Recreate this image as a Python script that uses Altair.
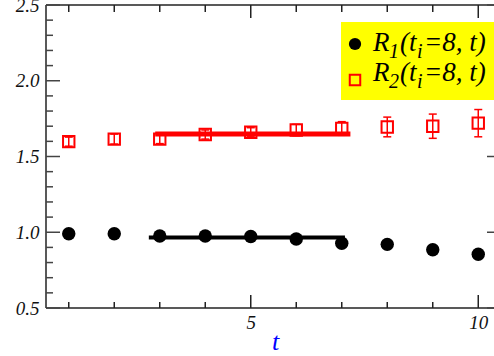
import altair as alt
import pandas as pd

# ---- data ----
t_vals = [1, 2, 3, 4, 5, 6, 7, 8, 9, 10]
r1_vals = [0.99, 0.99, 0.975, 0.975, 0.972, 0.955, 0.927, 0.92, 0.885, 0.855]
r1_err = [0.01, 0.01, 0.01, 0.01, 0.01, 0.012, 0.015, 0.02, 0.025, 0.035]
r2_vals = [1.598, 1.615, 1.615, 1.645, 1.66, 1.675, 1.685, 1.695, 1.70, 1.72]
r2_err = [0.03, 0.033, 0.03, 0.03, 0.03, 0.037, 0.045, 0.065, 0.08, 0.09]

fit1 = {"t0": [2.76], "t1": [7.07], "v": [0.966]}
fit2 = {"t0": [2.9], "t1": [7.19], "v": [1.649]}

y_major = [0.5, 1.0, 1.5, 2.0, 2.5]
y_minor = [0.6, 0.7, 0.8, 0.9, 1.1, 1.2, 1.3, 1.4, 1.6, 1.7, 1.8, 1.9, 2.1, 2.2, 2.3, 2.4]
x_major = [5, 10]
x_minor = [1, 2, 3, 4, 6, 7, 8, 9]

W, H = 448, 303
FONT = "Liberation Serif"
XDOM = [0.5, 10.346]
YDOM = [0.5, 2.5]

df = pd.DataFrame({"t": t_vals, "r1": r1_vals, "r1e": r1_err, "r2": r2_vals, "r2e": r2_err})
df["r1lo"] = df.r1 - df.r1e
df["r1hi"] = df.r1 + df.r1e
df["r2lo"] = df.r2 - df.r2e
df["r2hi"] = df.r2 + df.r2e

xs = alt.Scale(domain=XDOM, nice=False, zero=False)
ys = alt.Scale(domain=YDOM, nice=False, zero=False)

base = alt.Chart(df)

x_axis = alt.Axis(values=x_major, domain=False, ticks=False, grid=False, labelFont=FONT,
                  labelFontStyle="italic", labelFontSize=19, labelColor="#111", labelPadding=5,
                  title="t", titleFont=FONT, titleFontStyle="italic", titleFontWeight="normal",
                  titleFontSize=26, titleColor="#0000ff", titleX=229, titleY=41,
                  titleBaseline="alphabetic", titleAlign="center")
y_axis = alt.Axis(values=y_major, format=".1f", domain=False, ticks=False, grid=False,
                  labelFont=FONT, labelFontStyle="italic", labelFontSize=19, labelColor="#111",
                  labelPadding=7, title=None)

# invisible layer carrying the axes
axes_layer = base.mark_point(opacity=0).encode(
    x=alt.X("t:Q", scale=xs, axis=x_axis),
    y=alt.Y("r1:Q", scale=ys, axis=y_axis),
)

FRAME = "#222"
TICK = "#444"
one = pd.DataFrame({"a": [0]})


def vrule(x0, x1, y0, y1, color, w=1.5):
    return alt.Chart(one).mark_rule(color=color, strokeWidth=w).encode(
        x=alt.value(x0), x2=alt.value(x1), y=alt.value(y0), y2=alt.value(y1))


frame = [
    vrule(0, 0, 0, H, FRAME),
    vrule(0, W, H, H, FRAME),
    vrule(0, W, 0, 0, FRAME),
]

ymaj_df = pd.DataFrame({"v": y_major})
ymin_df = pd.DataFrame({"v": y_minor})
xmaj_df = pd.DataFrame({"v": x_major})
xmin_df = pd.DataFrame({"v": x_minor})

ticks = [
    alt.Chart(ymaj_df).mark_rule(color=TICK, strokeWidth=1.5).encode(
        y=alt.Y("v:Q", scale=ys), x=alt.value(0), x2=alt.value(14)),
    alt.Chart(ymin_df).mark_rule(color=TICK, strokeWidth=1.5).encode(
        y=alt.Y("v:Q", scale=ys), x=alt.value(0), x2=alt.value(7)),
    alt.Chart(ymaj_df).mark_rule(color=TICK, strokeWidth=1.5).encode(
        y=alt.Y("v:Q", scale=ys), x=alt.value(W - 7), x2=alt.value(W)),
    alt.Chart(xmaj_df).mark_rule(color=FRAME, strokeWidth=1.5).encode(
        x=alt.X("v:Q", scale=xs), y=alt.value(H), y2=alt.value(H - 13)),
    alt.Chart(xmin_df).mark_rule(color=FRAME, strokeWidth=1.5).encode(
        x=alt.X("v:Q", scale=xs), y=alt.value(H), y2=alt.value(H - 6)),
    alt.Chart(xmaj_df).mark_rule(color=FRAME, strokeWidth=1.5).encode(
        x=alt.X("v:Q", scale=xs), y=alt.value(0), y2=alt.value(13)),
    alt.Chart(xmin_df).mark_rule(color=FRAME, strokeWidth=1.5).encode(
        x=alt.X("v:Q", scale=xs), y=alt.value(0), y2=alt.value(7)),
]

RED = "#ff0000"

fit1_line = alt.Chart(pd.DataFrame(fit1)).mark_rule(color="black", strokeWidth=4, strokeCap="butt").encode(
    x=alt.X("t0:Q", scale=xs), x2="t1:Q", y=alt.Y("v:Q", scale=ys))
fit2_line = alt.Chart(pd.DataFrame(fit2)).mark_rule(color=RED, strokeWidth=5, strokeCap="butt").encode(
    x=alt.X("t0:Q", scale=xs), x2="t1:Q", y=alt.Y("v:Q", scale=ys))

r2_bar = base.mark_rule(color=RED, strokeWidth=1.5).encode(
    x=alt.X("t:Q", scale=xs), y=alt.Y("r2lo:Q", scale=ys), y2="r2hi:Q")
r2_cap_lo = base.mark_rule(color=RED, strokeWidth=1.5, xOffset=-4, x2Offset=4).encode(
    x=alt.X("t:Q", scale=xs), x2="t:Q", y=alt.Y("r2lo:Q", scale=ys))
r2_cap_hi = base.mark_rule(color=RED, strokeWidth=1.5, xOffset=-4, x2Offset=4).encode(
    x=alt.X("t:Q", scale=xs), x2="t:Q", y=alt.Y("r2hi:Q", scale=ys))
r2_pts = base.mark_point(shape="square", filled=False, color=RED, size=130, strokeWidth=2, opacity=1).encode(
    x=alt.X("t:Q", scale=xs), y=alt.Y("r2:Q", scale=ys))

r1_bar = base.mark_rule(color="black", strokeWidth=1.5).encode(
    x=alt.X("t:Q", scale=xs), y=alt.Y("r1lo:Q", scale=ys), y2="r1hi:Q")
r1_pts = base.mark_circle(color="black", size=180, opacity=1).encode(
    x=alt.X("t:Q", scale=xs), y=alt.Y("r1:Q", scale=ys))

# ---- legend box ----
OX, OY = 46, 5  # plot origin in page pixels
legend_box = alt.Chart(one).mark_rect(color="#ffff00").encode(
    x=alt.value(341 - OX), x2=alt.value(W), y=alt.value(22 - OY), y2=alt.value(100 - OY))
leg_circle = alt.Chart(one).mark_circle(color="black", size=150, opacity=1).encode(
    x=alt.value(355 - OX), y=alt.value(44 - OY))
leg_square = alt.Chart(one).mark_point(shape="square", filled=False, color=RED, size=110,
                                       strokeWidth=2, opacity=1).encode(
    x=alt.value(355 - OX), y=alt.value(80 - OY))


def txt(s, x, y, size):
    return alt.Chart(one).mark_text(text=s, font=FONT, fontStyle="italic", fontSize=size,
                                    align="left", baseline="alphabetic", color="black").encode(
        x=alt.value(x - OX), y=alt.value(y - OY))


legend_text = []
for sub, base_y in (("1", 51), ("2", 81)):
    legend_text += [
        txt("R", 373, base_y, 27),
        txt(sub, 389, base_y + 7, 20),
        txt("(t", 400, base_y, 27),
        txt("i", 417, base_y + 7, 20),
        txt("=8, t)", 424, base_y, 27),
    ]

chart = alt.layer(
    axes_layer, *frame, *ticks,
    fit2_line, r2_bar, r2_cap_lo, r2_cap_hi, r2_pts,
    fit1_line, r1_bar, r1_pts,
    legend_box, leg_circle, leg_square, *legend_text,
).properties(
    width=W, height=H,
    autosize=alt.AutoSizeParams(type="none"),
    padding={"left": 46, "top": 5, "right": 0, "bottom": 48},
    background="white",
).configure_view(stroke=None)

chart.save("out.html", embed_options={"renderer": "svg", "actions": False})
